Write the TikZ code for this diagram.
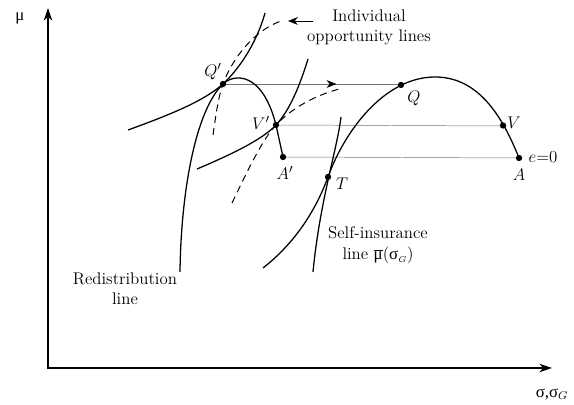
\documentclass[tikz,border=0pt]{standalone}
\usepackage{fontspec}
\newfontfamily\grk{Liberation Serif}
\usetikzlibrary{arrows.meta}
\begin{document}
\begin{tikzpicture}[x=0.025cm,y=-0.025cm,
  curve/.style={line width=0.9pt},
  dashcurve/.style={line width=0.7pt, dash pattern=on 5pt off 3.5pt},
  guide/.style={line width=0.35pt, black!55},
  axis/.style={line width=1.1pt, line join=miter, {Stealth[length=9pt,width=6pt]}-{Stealth[length=9pt,width=6pt]}},
  dot/.style={circle, fill=black, inner sep=0pt, minimum size=4.5pt},
  txt/.style={font=\fontsize{12}{14.2}\selectfont, inner sep=0pt, align=center},
  lbl/.style={font=\fontsize{12.5}{14}\selectfont, inner sep=0pt},
  ]
\useasboundingbox (0,0) rectangle (574,405);

% axes
\coordinate (ytip) at (48,8);
\coordinate (O) at (48,368);
\coordinate (xtip) at (552,368);
\draw[axis] (ytip) -- (O) -- (xtip);
\node[txt] (mu) at (20,18) {\grk μ};
\node[txt] (sig) at (552,394) {\grk σ,σ$_{\scriptstyle G}$};

% points
\coordinate (qp) at (223,84);
\coordinate (vp) at (276,125);
\coordinate (ap) at (283,157);
\coordinate (t) at (328,177);
\coordinate (pk) at (435,77);
\coordinate (a) at (519,158);

% guide lines
\draw[guide] (223,84) -- (403,84);
\draw[guide] (276,125) -- (503,126);
\draw[guide] (283,157) -- (519,158);
\path (223,84) -- (403,84) coordinate[pos=0.63] (arr);
\draw[-{Stealth[length=7pt,width=5.5pt]}] ([xshift=-2pt]arr) -- (arr);

% redistribution line
\draw[curve] (180,272) .. controls (181,190) and (196,110) .. (qp)
  .. controls (233,74) and (262,70) .. (vp) -- (ap);

% indifference curves
\draw[curve] (128,130) .. controls (175,113) and (205,100) .. (qp)
  .. controls (238,70) and (256,45) .. (265,13);
\draw[curve] (197,169) .. controls (230,155) and (262,140) .. (vp)
  .. controls (290,110) and (300,85) .. (308,59);

% individual opportunity lines (dashed)
\draw[dashcurve] (213,135) .. controls (216,115) and (218,98) .. (qp)
  .. controls (231,62) and (252,30) .. (284,20);
\draw[dashcurve] (232,203) .. controls (248,170) and (262,140) .. (vp)
  .. controls (292,108) and (315,95) .. (343,88);
\coordinate (ioltail) at (313,21);
\coordinate (ioltip) at (288,21);
\draw[line width=0.5pt, -{Stealth[length=7pt,width=5.5pt]}] (ioltail) -- (ioltip);

% big frontier
\draw[curve] (263,268) .. controls (295,243) and (316,210) .. (t)
  .. controls (345,130) and (385,77) .. (pk)
  .. controls (475,77) and (500,110) .. (a);

% self-insurance line
\draw[curve] (341,117) .. controls (337,150) and (320,200) .. (313,272);

% dots
\node[dot] (Qp) at (qp) {};
\node[dot] (Vp) at (vp) {};
\node[dot] (Ap) at (ap) {};
\node[dot] (T) at (t) {};
\node[dot] (Q) at (401,85) {};
\node[dot] (V) at (503,125.5) {};
\node[dot] (A) at (a) {};

% texts
\node[txt] (iol) at (369,27) {Individual\\opportunity lines};
\node[txt] (red) at (125,289) {Redistribution\\line};
\node[txt, anchor=base] (sil1) at (378,239) {Self-insurance};
\node[txt, anchor=base] (sil2) at (378,260) {line $\overline{\hbox{\grk μ}}$({\grk σ}$_{\scriptscriptstyle G}$)};

% point labels
\node[lbl] at (213,72) {$Q'$};
\node[lbl] at (261,123) {$V'$};
\node[lbl] at (285,173) {$A'$};
\node[lbl] at (342,184) {$T$};
\node[lbl] at (414,98) {$Q$};
\node[lbl] at (514,123) {$V$};
\node[lbl] at (519,175) {$A$};
\node[lbl] at (543,157) {$e{=}0$};
\end{tikzpicture}
\end{document}
